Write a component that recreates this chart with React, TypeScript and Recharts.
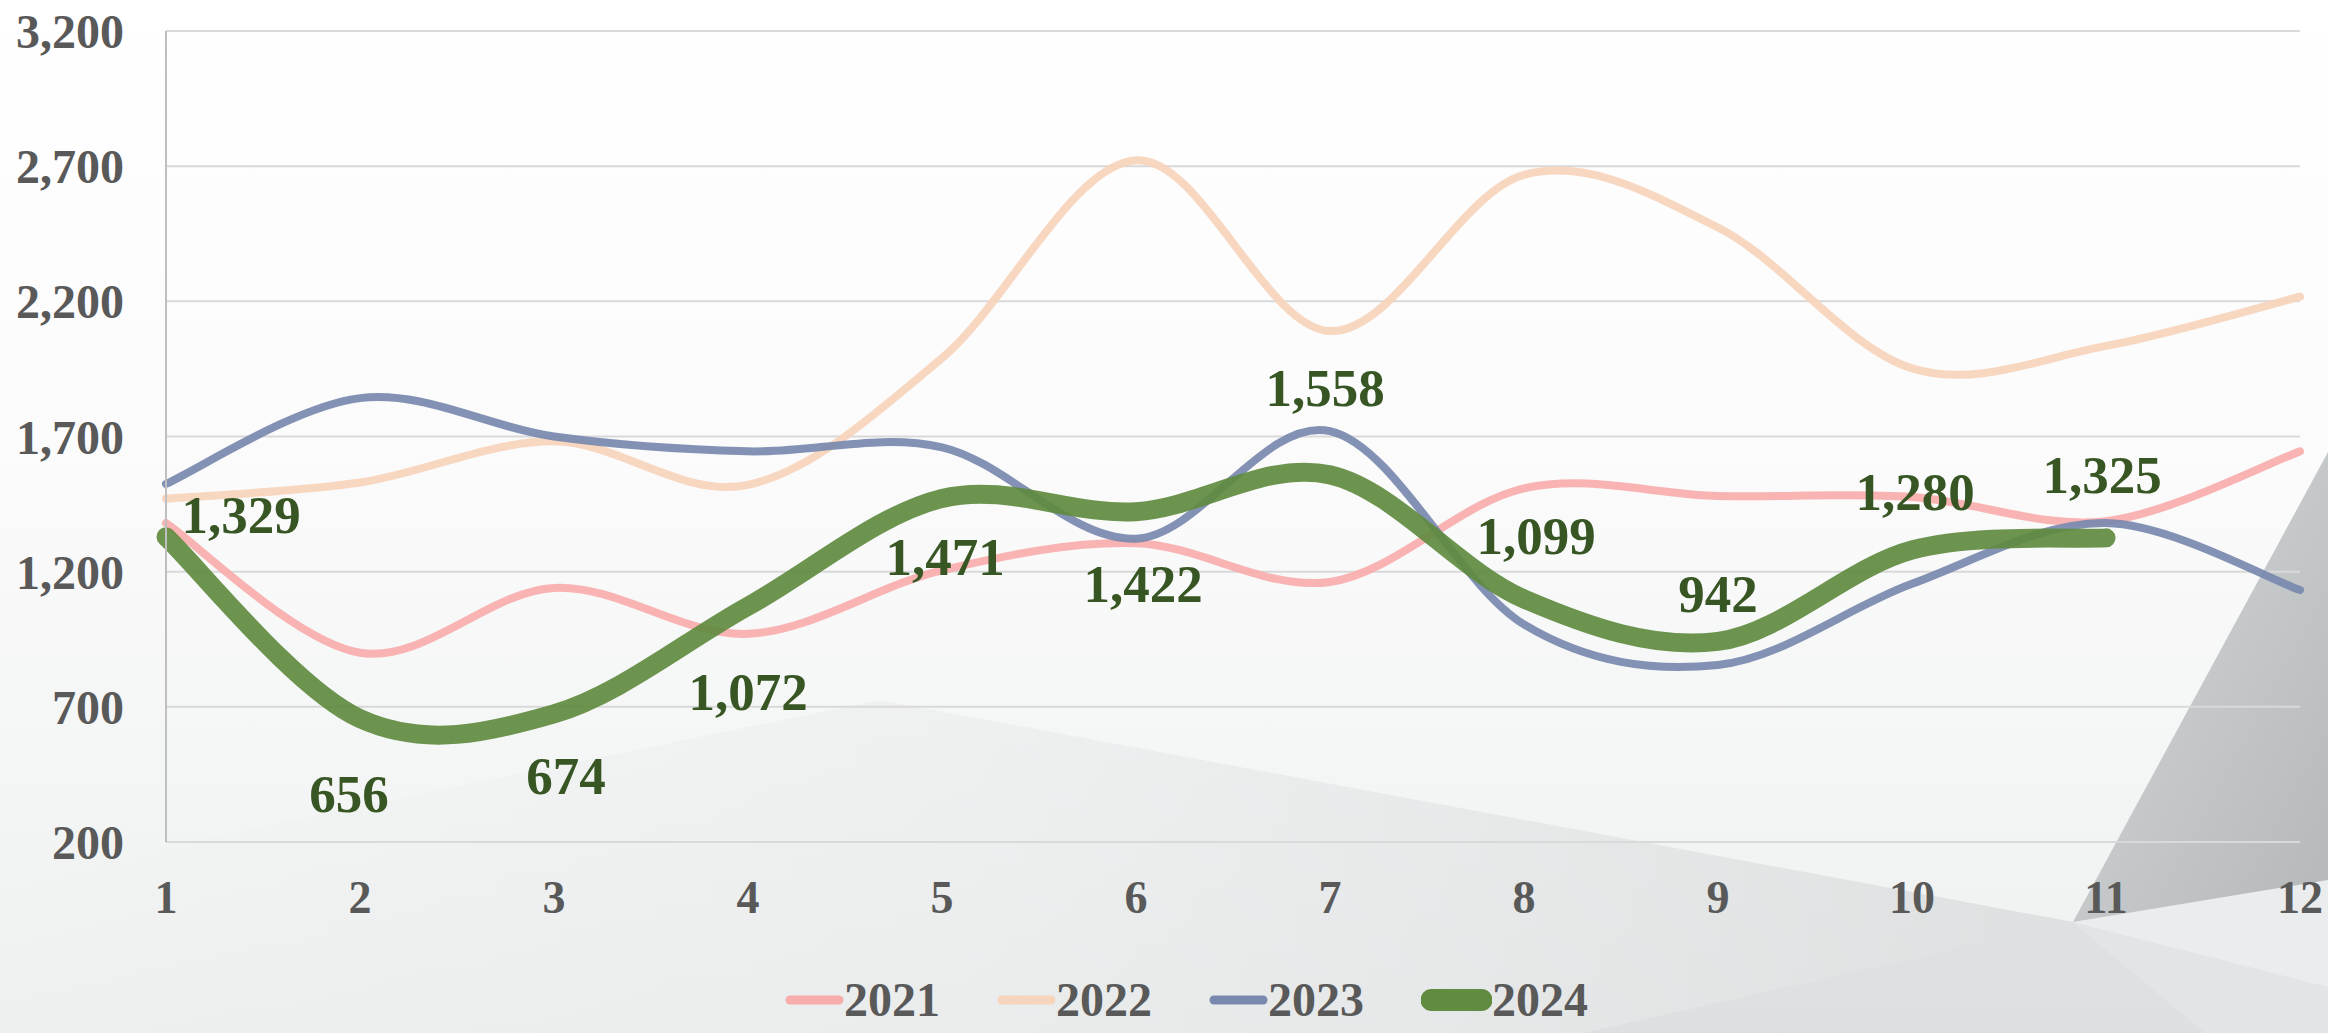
import React from 'react';
import { LineChart, Line, XAxis, YAxis, CartesianGrid, Legend, LabelList } from 'recharts';

const months = [1, 2, 3, 4, 5, 6, 7, 8, 9, 10, 11, 12];
const sales2021 = [1380, 900, 1140, 970, 1205, 1305, 1162, 1508, 1480, 1476, 1387, 1645];
const sales2022 = [1470, 1530, 1682, 1521, 1990, 2722, 2090, 2668, 2473, 1952, 2035, 2217];
const sales2023 = [1525, 1842, 1700, 1645, 1660, 1322, 1720, 1005, 855, 1155, 1380, 1132];
const sales2024 = [1329, 656, 674, 1072, 1471, 1422, 1558, 1099, 942, 1280, 1325, null];
const yTicks = [200, 700, 1200, 1700, 2200, 2700, 3200];

// hand-placed label nudges (dx, dy) for the 2024 values
const labelNudge = [
  [75, -22], [-11, 75], [12, 62], [0, 86], [3, 59], [7, 72],
  [-5, -87], [12, -63], [0, -47], [3, -58], [-4, -63],
];

const data = months.map((m, i) => ({
  month: m,
  y2021: sales2021[i],
  y2022: sales2022[i],
  y2023: sales2023[i],
  y2024: sales2024[i],
}));

const series = [
  { key: 'y2021', name: '2021', color: '#F9ACAC', width: 8 },
  { key: 'y2022', name: '2022', color: '#F7D4BC', width: 8 },
  { key: 'y2023', name: '2023', color: '#7889AE', width: 8 },
  { key: 'y2024', name: '2024', color: '#608B40', width: 19 },
];

const FONT = '"Liberation Serif", "Times New Roman", serif';
const fmt = (v: number) => v.toLocaleString('en-US');

// Excel-like smoothed line (Catmull-Rom style bezier)
const excelSmooth = (context: any) => {
  let pts: number[][] = [];
  return {
    areaStart() {},
    areaEnd() {},
    lineStart() { pts = []; },
    point(x: number, y: number) { pts.push([+x, +y]); },
    lineEnd() {
      if (!pts.length) return;
      context.moveTo(pts[0][0], pts[0][1]);
      if (pts.length === 1) { context.lineTo(pts[0][0], pts[0][1]); return; }
      for (let i = 0; i < pts.length - 1; i++) {
        const p0 = pts[i - 1] || pts[i];
        const p1 = pts[i];
        const p2 = pts[i + 1];
        const p3 = pts[i + 2] || p2;
        context.bezierCurveTo(
          p1[0] + (p2[0] - p0[0]) / 6, p1[1] + (p2[1] - p0[1]) / 6,
          p2[0] - (p3[0] - p1[0]) / 6, p2[1] - (p3[1] - p1[1]) / 6,
          p2[0], p2[1]
        );
      }
    },
  };
};

const renderValue = (props: any) => {
  const { value, index } = props;
  if (value == null) return null;
  const x = props.x ?? props.viewBox?.x;
  const y = props.y ?? props.viewBox?.y;
  const [dx, dy] = labelNudge[index] || [0, -50];
  return (
    <text
      x={x + dx}
      y={y + dy}
      textAnchor="middle"
      dominantBaseline="central"
      fill="#375623"
      fontFamily={FONT}
      fontWeight="bold"
      fontSize={53}
    >
      {fmt(value)}
    </text>
  );
};

const renderLegend = () => (
  <div style={{ display: 'flex', alignItems: 'center', gap: 57, fontFamily: FONT }}>
    {series.map(s => {
      const w = s.width > 10 ? 71 : 59;
      return (
        <div key={s.key} style={{ display: 'flex', alignItems: 'center' }}>
          <svg width={w} height={26}>
            <line
              x1={s.width / 2 + 1}
              x2={w - s.width / 2 - 1}
              y1={13}
              y2={13}
              stroke={s.color}
              strokeWidth={s.width > 10 ? 22 : 9}
              strokeLinecap="round"
            />
          </svg>
          <span style={{ fontSize: 48, fontWeight: 'bold', color: '#595959', lineHeight: '46px' }}>{s.name}</span>
        </div>
      );
    })}
  </div>
);

const App: React.FC = () => {
  return (
    <div
      style={{
        position: 'absolute',
        left: 0,
        top: 0,
        width: 2328,
        height: 1033,
        overflow: 'hidden',
        background: 'linear-gradient(180deg, #ffffff 0%, #fbfbfb 45%, #eef0f0 100%)',
      }}
    >
      {/* decorative background facets */}
      <svg width={2328} height={1033} style={{ position: 'absolute', left: 0, top: 0 }}>
        <defs>
          <linearGradient id="facetBig" x1="0" y1="0" x2="1" y2="0">
            <stop offset="0%" stopColor="#e3e5e6" stopOpacity={0} />
            <stop offset="45%" stopColor="#e3e5e6" stopOpacity={0.35} />
            <stop offset="100%" stopColor="#d9dbdc" stopOpacity={0.8} />
          </linearGradient>
          <linearGradient id="facetDark" x1="0" y1="0" x2="1" y2="1">
            <stop offset="0%" stopColor="#d6d9da" />
            <stop offset="100%" stopColor="#b4b8ba" />
          </linearGradient>
        </defs>
        <polygon points="880,700 2073,922 1583,1033 0,1033 0,880" fill="url(#facetBig)" />
        <polygon points="2073,922 1583,1033 2206,1033" fill="#d8dadb" opacity={0.75} />
        <polygon points="2073,922 2328,880 2328,987" fill="#ebeced" />
        <polygon points="2073,922 2328,987 2328,1033 2206,1033" fill="#e2e4e5" />
        <polygon points="2328,452 2073,922 2328,880" fill="url(#facetDark)" />
      </svg>

      <div style={{ position: 'absolute', left: 0, top: 0 }}>
        <LineChart width={2328} height={1033} data={data} margin={{ top: 31, right: 28, bottom: 91, left: 0 }}>
          <CartesianGrid vertical={false} stroke="#d9d9d9" strokeWidth={2} />
          <XAxis
            dataKey="month"
            height={100}
            axisLine={false}
            tickLine={false}
            tickSize={0}
            tickMargin={38}
            interval={0}
            tick={{ fill: '#595959', fontSize: 46, fontWeight: 'bold', fontFamily: FONT }}
          />
          <YAxis
            width={166}
            domain={[200, 3200]}
            ticks={yTicks}
            interval={0}
            tickFormatter={fmt}
            axisLine={{ stroke: '#bfbfbf', strokeWidth: 2 }}
            tickLine={false}
            tickSize={0}
            tickMargin={42}
            tick={{ fill: '#595959', fontSize: 48, fontWeight: 'bold', fontFamily: FONT }}
          />
          <Legend
            verticalAlign="middle"
            align="center"
            content={renderLegend}
            wrapperStyle={{ position: 'absolute', left: 785, top: 977, width: 'auto', height: 46 }}
          />
          {series.map(s => (
            <Line
              key={s.key}
              dataKey={s.key}
              name={s.name}
              type={excelSmooth as any}
              stroke={s.color}
              strokeWidth={s.width}
              strokeLinecap="round"
              strokeOpacity={0.92}
              dot={false}
              activeDot={false}
              isAnimationActive={false}
            >
              {s.key === 'y2024' && <LabelList dataKey="y2024" content={renderValue} />}
            </Line>
          ))}
        </LineChart>
      </div>
    </div>
  );
};

export default App;
